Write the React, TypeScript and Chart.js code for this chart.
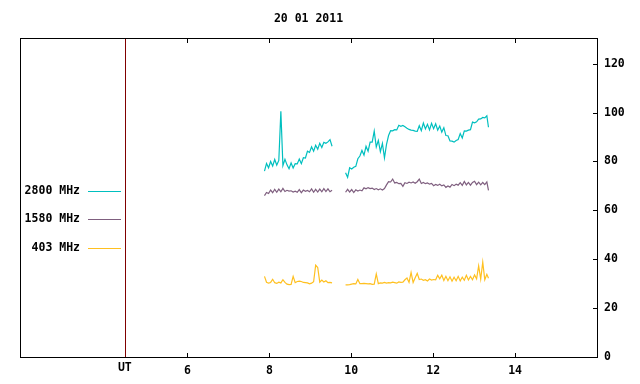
import React, { useEffect, useRef } from 'react';
import { Chart, registerables } from 'chart.js';

Chart.register(...registerables);

const TITLE = '20 01 2011';
const X_TICKS = [6, 8, 10, 12, 14];
const Y_TICKS = [0, 20, 40, 60, 80, 100, 120];
const X_MIN = 1.91;
const X_MAX = 16;
const Y_MIN = 0;
const Y_MAX = 130.5;
const UT_MARK = 4.47;
const UT_LABEL = 'UT';
const GAP_AT = 9.7;

const SERIES_LABELS = ['2800 MHz', '1580 MHz', '403 MHz'];
const SERIES_COLORS = ['#00bfbf', '#7f5f7f', '#ffc020'];

const TIME_1 = [7.88, 7.93, 7.98, 8.03, 8.08, 8.13, 8.18, 8.23, 8.28, 8.33, 8.38, 8.43, 8.48, 8.53, 8.58, 8.63, 8.68,
  8.73, 8.78, 8.83, 8.88, 8.93, 8.98, 9.03, 9.08, 9.13, 9.18, 9.23, 9.28, 9.33, 9.38, 9.43, 9.48, 9.53];

const TIME_2 = [9.86, 9.91, 9.96, 10.01, 10.06, 10.11, 10.16, 10.21, 10.26, 10.31, 10.36, 10.41, 10.46, 10.51, 10.56,
  10.61, 10.66, 10.71, 10.76, 10.81, 10.86, 10.91, 10.96, 11.01, 11.06, 11.11, 11.16, 11.21, 11.26, 11.31, 11.36,
  11.41, 11.46, 11.51, 11.56, 11.61, 11.66, 11.71, 11.76, 11.81, 11.86, 11.91, 11.96, 12.01, 12.06, 12.11, 12.16,
  12.21, 12.26, 12.31, 12.36, 12.41, 12.46, 12.51, 12.56, 12.61, 12.66, 12.71, 12.76, 12.81, 12.86, 12.91, 12.96,
  13.01, 13.06, 13.11, 13.16, 13.21, 13.26, 13.31, 13.35];

const MHZ2800_1 = [76.0, 79.2, 77.4, 80.0, 78.1, 80.8, 78.5, 80.4, 100.5, 78.3, 80.9, 78.6, 77.0, 79.4, 77.3, 79.1, 79.0,
  81.0, 79.1, 81.5, 81.4, 84.2, 83.7, 86.0, 84.2, 86.6, 85.0, 87.4, 85.7, 87.8, 87.4, 88.0, 88.9, 86.2];

const MHZ2800_2 = [75.4, 73.5, 77.4, 76.9, 77.6, 78.0, 81.1, 82.2, 84.5, 82.6, 86.2, 84.2, 87.9, 87.9, 92.4,
  85.9, 88.6, 84.0, 87.4, 81.5, 87.0, 90.6, 92.6, 92.5, 93.0, 92.9, 94.8, 94.4, 94.7, 94.2, 93.6,
  93.1, 92.8, 92.7, 92.4, 92.3, 94.6, 92.6, 95.7, 93.3, 95.2, 92.9, 95.6, 93.4, 95.4, 92.8, 94.5,
  92.0, 93.8, 90.6, 90.5, 88.4, 88.3, 87.9, 88.6, 89.0, 91.4, 89.6, 92.5, 92.4, 92.8, 93.0, 96.1,
  95.8, 96.2, 97.3, 97.4, 98.0, 97.8, 98.7, 94.0];

const MHZ1580_1 = [66.0, 67.3, 66.9, 68.3, 67.2, 68.6, 67.4, 68.7, 67.6, 69.0, 67.7, 68.2, 67.9, 68.0, 67.5, 67.8, 67.4,
  68.5, 67.2, 68.3, 67.8, 68.1, 67.6, 68.8, 67.4, 68.6, 67.5, 68.7, 67.6, 68.9, 67.7, 68.8, 67.6, 68.2];

const MHZ1580_2 = [67.4, 68.6, 67.5, 68.5, 67.3, 68.4, 67.9, 68.3, 68.0, 69.2, 68.8, 69.3, 68.9, 69.1, 68.5,
  68.9, 68.4, 68.8, 68.3, 68.9, 70.4, 71.7, 71.6, 72.8, 71.2, 71.4, 70.9, 71.0, 69.8, 71.3, 71.0,
  71.5, 71.2, 71.6, 71.1, 71.7, 72.8, 71.0, 71.4, 70.9, 71.2, 70.7, 71.0, 70.1, 70.6, 70.2, 70.7,
  70.0, 70.4, 69.4, 70.0, 69.5, 70.6, 70.1, 70.7, 70.3, 71.3, 70.2, 71.8, 70.4, 71.4, 70.3, 71.4,
  71.9, 70.5, 71.5, 70.4, 71.4, 70.5, 71.6, 68.2];

const MHZ403_1 = [33.0, 30.6, 30.2, 30.5, 31.8, 30.4, 30.1, 30.6, 30.3, 31.6, 30.5, 29.8, 29.6, 29.7, 33.0, 30.4, 30.9,
  31.0, 30.9, 30.5, 30.4, 30.3, 29.9, 30.2, 30.8, 37.6, 36.6, 30.6, 31.5, 30.7, 31.2, 30.4, 30.5, 30.3];

const MHZ403_2 = [29.5, 29.5, 29.6, 29.8, 30.0, 29.9, 31.7, 30.0, 30.0, 30.1, 30.0, 29.9, 30.0, 29.7, 29.8,
  34.0, 30.0, 30.3, 30.2, 30.5, 30.2, 30.4, 30.3, 30.6, 30.4, 30.2, 30.7, 30.5, 30.6, 31.6, 32.3,
  30.5, 34.6, 30.5, 32.4, 34.2, 31.7, 31.9, 31.4, 31.6, 31.1, 31.9, 31.5, 31.7, 31.6, 33.4, 32.0,
  33.5, 31.3, 33.0, 31.2, 32.8, 31.0, 32.6, 31.2, 33.0, 31.1, 32.7, 31.4, 33.4, 31.5, 33.0, 31.6,
  33.6, 32.0, 37.3, 31.9, 38.8, 31.6, 33.8, 32.2];

const SERIES_1 = [MHZ2800_1, MHZ1580_1, MHZ403_1];
const SERIES_2 = [MHZ2800_2, MHZ1580_2, MHZ403_2];

const FONT = 'bold 11.5px "DejaVu Sans Mono", "Liberation Mono", monospace';

function buildData(a: number[], b: number[]) {
  const pts: { x: number; y: number | null }[] = [];
  TIME_1.forEach((t, i) => pts.push({ x: t, y: a[i] }));
  pts.push({ x: GAP_AT, y: null });
  TIME_2.forEach((t, i) => pts.push({ x: t, y: b[i] }));
  return pts;
}

const framePlugin = {
  id: 'gnuplotFrame',
  beforeDatasetsDraw(chart: any) {
    const { ctx, chartArea, scales } = chart;
    const x = Math.round(scales.x.getPixelForValue(UT_MARK)) + 0.5;
    ctx.save();
    ctx.strokeStyle = '#800000';
    ctx.lineWidth = 1;
    ctx.beginPath();
    ctx.moveTo(x, chartArea.top);
    ctx.lineTo(x, chartArea.bottom);
    ctx.stroke();
    ctx.restore();
  },
  afterDraw(chart: any) {
    const { ctx, chartArea, scales } = chart;
    const { left, right, top, bottom } = chartArea;
    ctx.save();
    ctx.strokeStyle = '#000';
    ctx.lineWidth = 1;
    ctx.strokeRect(left + 0.5, top + 0.5, right - left, bottom - top);
    ctx.fillStyle = '#000';
    ctx.font = FONT;

    ctx.beginPath();
    X_TICKS.forEach((v) => {
      const px = Math.round(scales.x.getPixelForValue(v)) + 0.5;
      ctx.moveTo(px, bottom + 0.5);
      ctx.lineTo(px, bottom - 4);
      ctx.moveTo(px, top + 0.5);
      ctx.lineTo(px, top + 5);
    });
    Y_TICKS.forEach((v) => {
      const py = Math.round(scales.y.getPixelForValue(v)) + 0.5;
      ctx.moveTo(right + 0.5, py);
      ctx.lineTo(right - 4, py);
    });
    ctx.stroke();

    ctx.textAlign = 'center';
    ctx.textBaseline = 'middle';
    X_TICKS.forEach((v) => {
      ctx.fillText(String(v), scales.x.getPixelForValue(v), bottom + 14);
    });
    ctx.fillText(UT_LABEL, scales.x.getPixelForValue(UT_MARK), bottom + 11);

    ctx.textAlign = 'left';
    Y_TICKS.forEach((v) => {
      ctx.fillText(String(v), right + 7, scales.y.getPixelForValue(v));
    });

    ctx.textAlign = 'center';
    ctx.fillText(TITLE, (left + right) / 2, 19);

    const legendY = [191.5, 219.5, 248.5];
    SERIES_LABELS.forEach((lab, i) => {
      ctx.textAlign = 'right';
      ctx.fillStyle = '#000';
      ctx.fillText(lab, 80, legendY[i]);
      ctx.strokeStyle = SERIES_COLORS[i];
      ctx.beginPath();
      ctx.moveTo(88, legendY[i]);
      ctx.lineTo(121, legendY[i]);
      ctx.stroke();
    });
    ctx.restore();
  },
};

export default function App() {
  const ref = useRef<HTMLCanvasElement | null>(null);

  useEffect(() => {
    if (!ref.current) return;
    const chart = new Chart(ref.current, {
      type: 'line',
      data: {
        datasets: SERIES_LABELS.map((label, i) => ({
          label,
          data: buildData(SERIES_1[i], SERIES_2[i]),
          borderColor: SERIES_COLORS[i],
          backgroundColor: SERIES_COLORS[i],
          borderWidth: 1.2,
          pointRadius: 0,
          tension: 0,
          spanGaps: false,
          fill: false,
        })),
      },
      options: {
        animation: false,
        responsive: false,
        devicePixelRatio: 1,
        layout: { padding: { left: 20, top: 38, right: 43, bottom: 27 } },
        plugins: { legend: { display: false }, tooltip: { enabled: false }, title: { display: false } },
        scales: {
          x: { type: 'linear', min: X_MIN, max: X_MAX, display: false },
          y: { type: 'linear', min: Y_MIN, max: Y_MAX, display: false },
        },
      },
      plugins: [framePlugin],
    });
    return () => chart.destroy();
  }, []);

  return (
    <div style={{ position: 'fixed', left: 0, top: 0, width: 640, height: 384, background: '#fff' }}>
      <canvas ref={ref} width={640} height={384} style={{ width: 640, height: 384 }} />
    </div>
  );
}
